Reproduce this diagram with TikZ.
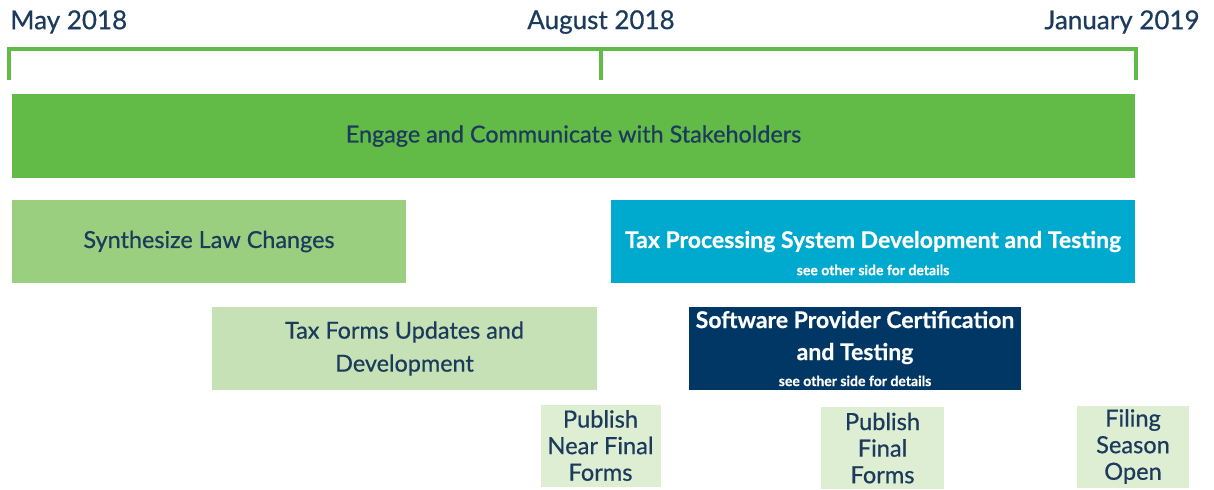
\documentclass[tikz,border=0pt]{standalone}
\usepackage{fontspec}
\setmainfont{Lato}[FakeBold=0.6]
\definecolor{tlgreen}{HTML}{62BB46}
\definecolor{midgreen}{HTML}{9BCF80}
\definecolor{palegreen}{HTML}{C6E1B6}
\definecolor{palest}{HTML}{DDEED3}
\definecolor{procblue}{HTML}{00A9CE}
\definecolor{navy}{HTML}{003764}
\definecolor{ink}{HTML}{1C3A5C}
\newcommand\detailsize{\fontsize{7}{8}\selectfont}
\begin{document}
\begin{tikzpicture}[x=0.5pt,y=-0.5pt,
  bar/.style={rectangle,inner sep=0pt,align=center,text=ink,
    font=\fontsize{11.7}{16.5}\selectfont},
  whitebar/.style={bar,text=white,font=\fontsize{11.5}{16}\selectfont\bfseries},
  datelabel/.style={inner sep=0pt,text=ink,font=\fontsize{13}{15}\selectfont},
  milestone/.style={bar,fill=palest,minimum width=60pt,minimum height=41pt,
    font=\fontsize{11.8}{13.3}\selectfont},
  tick/.style={draw=tlgreen,line width=2pt}]
\useasboundingbox (0,0) rectangle (1214,489);

% timeline bracket
\coordinate (t0) at (9,49);
\coordinate (t1) at (601,49);
\coordinate (t2) at (1136,49);
\draw[tick] (9,80) -- (t0) -- (t2) -- (1136,80);
\draw[tick] (t1) -- (601,80);

\node[datelabel,anchor=west] (may) at (10,22) {May 2018};
\node[datelabel] (aug) at (601,22) {August 2018};
\node[datelabel,anchor=east] (jan) at (1200,22) {January 2019};

% activity bars
\node[bar,fill=tlgreen,minimum width=561.5pt,minimum height=42pt] (engage) at (573.5,136)
  {Engage and Communicate with Stakeholders};
\node[bar,fill=midgreen,minimum width=197pt,minimum height=41.5pt] (synth) at (209,241.5)
  {Synthesize Law Changes};
\node[whitebar,fill=procblue,minimum width=262pt,minimum height=41.5pt] (proc) at (873,241.5)
  {Tax Processing System Development and Testing};
\node[inner sep=0pt,text=white,font=\detailsize\bfseries] (procnote) at (873,270)
  {see other side for details};
\node[bar,fill=palegreen,minimum width=192.5pt,minimum height=41.5pt] (forms) at (404.5,348.5)
  {Tax Forms Updates and\\Development};
\node[whitebar,fill=navy,minimum width=166pt,minimum height=41.5pt] (cert) at (855,348.5)
  {Software Provider Certification\\and Testing\\[-3pt]{\detailsize see other side for details}};

% milestones
\node[milestone] (near) at (600.5,445.5) {Publish\\Near Final\\Forms};
\node[milestone,minimum width=61.5pt] (final) at (882.5,448) {Publish\\Final\\Forms};
\node[milestone,minimum width=56pt] (open) at (1133,446.5) {Filing\\Season\\Open};
\end{tikzpicture}
\end{document}
